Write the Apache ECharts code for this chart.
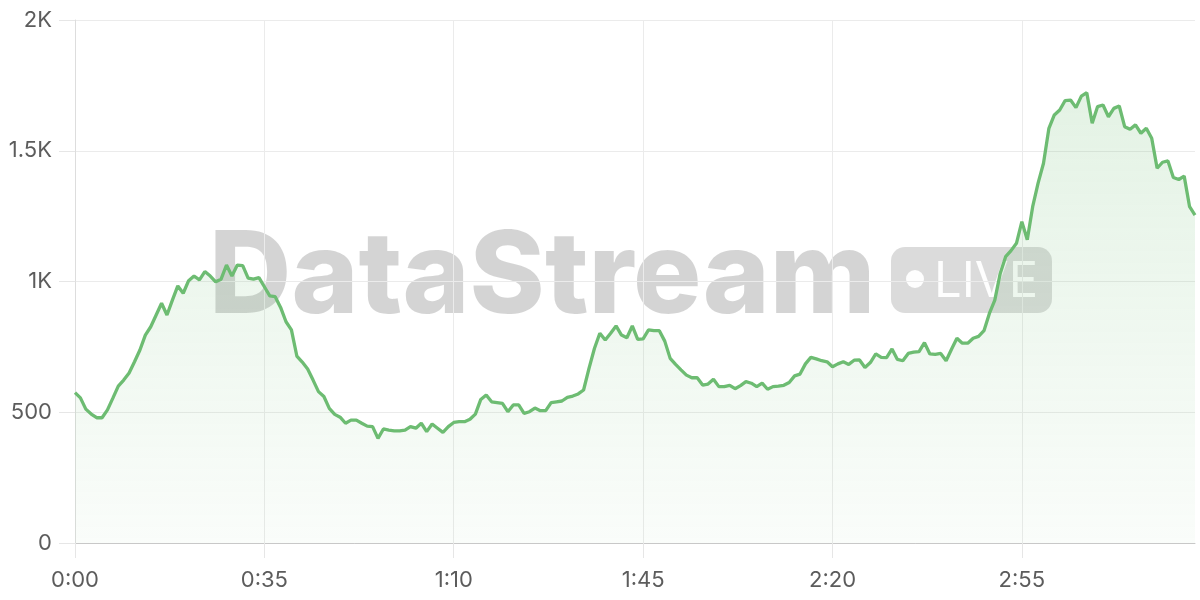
<!DOCTYPE html>
<html>
<head>
<meta charset="utf-8">
<script src="https://cdn.jsdelivr.net/npm/echarts@6/dist/echarts.min.js"></script>
<style>
html,body{margin:0;padding:0;background:#fff;}
#chart{width:1200px;height:600px;}
</style>
</head>
<body>
<div id="chart"></div>
<script>
// one value per minute, starting at 0:00
const values = [
  575,555,512,493,479,479,509,554,600,623,
  650,693,738,795,827,872,917,872,929,983,
  955,1003,1021,1006,1038,1021,999,1009,1063,1021,
  1063,1061,1013,1009,1015,980,945,942,901,846,
  815,715,692,665,623,579,560,515,492,481,
  458,470,470,458,447,445,400,436,432,429,
  429,432,445,439,458,426,455,439,423,445,
  461,464,464,473,493,549,566,540,537,534,
  502,528,528,496,502,516,506,506,537,540,
  543,557,562,570,585,668,744,802,776,802,
  830,795,785,830,779,781,815,812,812,772,
  706,683,662,642,632,632,604,608,626,598,
  598,603,590,602,617,611,598,611,588,598,
  600,603,614,639,646,685,710,704,697,693,
  674,685,693,683,699,700,671,690,723,710,
  709,742,702,697,725,730,732,766,723,721,
  725,697,741,783,764,764,783,790,812,878,
  929,1031,1095,1118,1146,1229,1160,1286,1376,1452,
  1586,1637,1656,1692,1694,1665,1709,1722,1605,1669,
  1675,1630,1662,1671,1592,1582,1599,1567,1586,1548,
  1433,1456,1461,1398,1390,1403,1286,1254
];
const categories = values.map((v, i) => Math.floor(i / 60) + ':' + String(i % 60).padStart(2, '0'));
const yTickLabels = {0: '0', 500: '500', 1000: '1K', 1500: '1.5K', 2000: '2K'};

const chart = echarts.init(document.getElementById('chart'));
const green = '#6dbc72';
chart.setOption({
  animation: false,
  grid: {left: 75, right: 5, top: 20, bottom: 57},
  graphic: [
    {type: 'text', z: 0, silent: true,
     style: {x: 209, y: 279, text: 'DataStream', font: '800 114px Inter', fill: 'rgba(0,0,0,0.17)', verticalAlign: 'middle'}},
    {type: 'rect', z: 0, silent: true,
     shape: {x: 891, y: 247, width: 161, height: 66, r: 14},
     style: {fill: 'rgba(0,0,0,0.14)'}},
    {type: 'circle', z: 0, silent: true,
     shape: {cx: 915, cy: 279, r: 9},
     style: {fill: 'rgba(255,255,255,0.95)'}},
    {type: 'text', z: 0, silent: true,
     style: {x: 934, y: 282, text: 'LIVE', font: '400 49px Inter', fill: 'rgba(255,255,255,0.95)', verticalAlign: 'middle'}}
  ],
  xAxis: {
    type: 'category',
    data: categories,
    boundaryGap: false,
    axisLine: {lineStyle: {color: '#c8c8c8', width: 1}},
    axisTick: {show: true, interval: 34, length: 15, lineStyle: {color: '#e6e6e6'}},
    axisLabel: {interval: 34, color: '#5c5c5c', fontSize: 22, fontFamily: 'Inter', margin: 26},
    splitLine: {show: true, interval: 34, lineStyle: {color: '#ebebeb'}}
  },
  yAxis: {
    type: 'value',
    min: 0, max: 2000, interval: 500,
    axisLine: {show: true, lineStyle: {color: '#dddddd'}},
    axisTick: {show: true, length: 16, lineStyle: {color: '#e6e6e6'}},
    axisLabel: {color: '#5c5c5c', fontSize: 22, fontFamily: 'Inter', margin: 23,
      formatter: v => yTickLabels[v] !== undefined ? yTickLabels[v] : String(v)},
    splitLine: {lineStyle: {color: '#ebebeb'}}
  },
  series: [{
    type: 'line',
    data: values,
    showSymbol: false,
    symbol: 'none',
    lineStyle: {color: green, width: 3.3},
    itemStyle: {color: green},
    areaStyle: {
      color: new echarts.graphic.LinearGradient(0, 0, 0, 1, [
        {offset: 0, color: 'rgba(111,189,116,0.27)'},
        {offset: 1, color: 'rgba(111,189,116,0.05)'}
      ])
    }
  }]
});
</script>
</body>
</html>
